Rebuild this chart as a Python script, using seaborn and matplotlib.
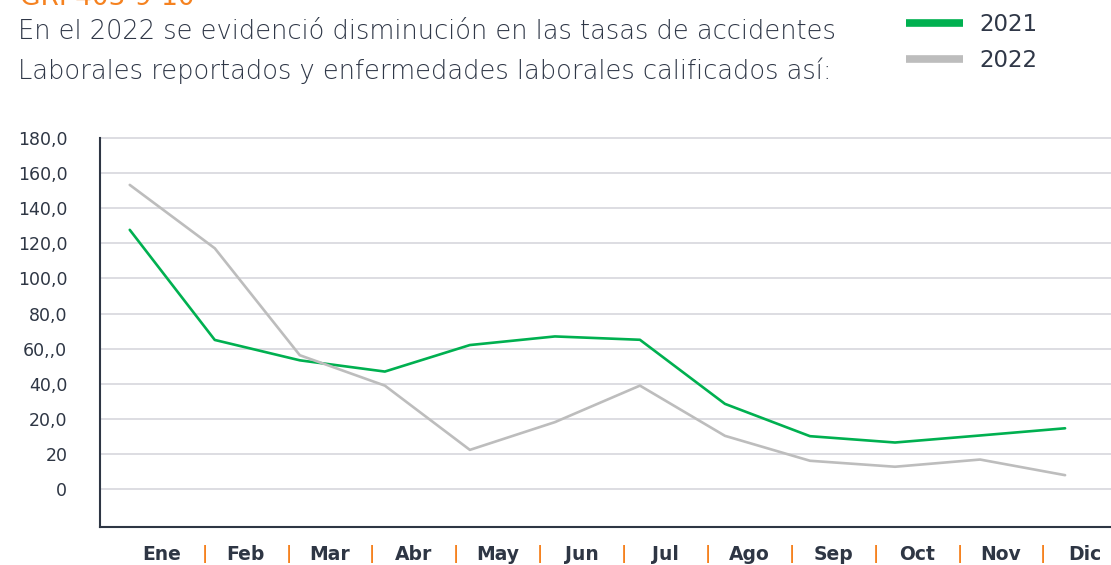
import matplotlib
matplotlib.use("Agg")
import matplotlib.pyplot as plt
import seaborn as sns
import pandas as pd
import numpy as np
from matplotlib.lines import Line2D

meses = ["Ene", "Feb", "Mar", "Abr", "May", "Jun", "Jul", "Ago", "Sep", "Oct", "Nov", "Dic"]
tasa_2021 = [147.7, 85.0, 73.4, 67.0, 82.1, 87.0, 85.1, 48.6, 30.2, 26.6, 30.6, 34.7]
tasa_2022 = [173.3, 137.2, 76.3, 59.0, 22.4, 38.2, 59.0, 30.4, 16.2, 12.8, 16.9, 8.0]
ytick_vals = [200, 180, 160, 140, 120, 100, 80, 60, 40, 20, 0]
ytick_labels = ["180,0", "160,0", "140,0", "120,0", "100,0", "80,0", "60,,0", "40,0", "20,0", "20", "0"]

df = pd.DataFrame({
    "mes": list(range(12)) * 2,
    "tasa": tasa_2021 + tasa_2022,
    "anio": ["2021"] * 12 + ["2022"] * 12,
})

sns.set_style("white")
plt.rcParams["font.family"] = ["DejaVu Sans"]

verde = "#00b050"
gris = "#bdbdbd"
oscuro = "#2e3644"
naranja = "#f58220"
texto = "#2f3747"

fig = plt.figure(figsize=(11.11, 5.65), dpi=100)
ax = fig.add_axes([0.09, 0.0673, 0.91, 0.690])

for y in ytick_vals:
    ax.axhline(y, color="#dddde2", lw=1.4, zorder=0)

sns.lineplot(
    data=df, x="mes", y="tasa", hue="anio",
    palette={"2021": verde, "2022": gris},
    linewidth=1.9, legend=False, ax=ax
)

ax.set_xlim(-0.35, 11.54)
ax.set_ylim(-21.5, 200.5)
ax.set_yticks(ytick_vals)
ax.set_yticklabels(ytick_labels, fontsize=12.5, color=oscuro)
ax.tick_params(axis="y", direction="inout", length=11, width=1.5, color=oscuro, pad=18)
ax.set_xticks([])
ax.set_xlabel("")
ax.set_ylabel("")

for s in ["top", "right"]:
    ax.spines[s].set_visible(False)
ax.spines["left"].set_bounds(-21.5, 200)
ax.spines["left"].set_color(oscuro)
ax.spines["left"].set_linewidth(1.5)
ax.spines["bottom"].set_color(oscuro)
ax.spines["bottom"].set_linewidth(1.5)

# month labels sit a bit right of the points, orange bars between them
for i, m in enumerate(meses):
    xm = i + 0.38 - 0.0136 * i
    ax.text(xm, -0.07, m, transform=ax.get_xaxis_transform(),
            ha="center", va="center", fontsize=13.5, fontweight="bold", color=oscuro)
    if i < len(meses) - 1:
        ax.text(xm + 0.5, -0.07, "|", transform=ax.get_xaxis_transform(),
                ha="center", va="center", fontsize=12, fontweight="bold", color=naranja)

# heading is cut by the top edge in the original, only its lower part shows
fig.text(0.018, 0.991, "GRI 403-9-10", fontsize=19, color=naranja,
         ha="left", va="baseline")
fig.text(0.016, 0.945, "En el 2022 se evidenció disminución en las tasas de accidentes",
         fontsize=18.5, fontweight="light", color=texto, ha="left", va="center")
fig.text(0.016, 0.874, "Laborales reportados y enfermedades laborales calificados así:",
         fontsize=18.5, fontweight="light", color=texto, ha="left", va="center")

handles = [Line2D([], [], color=verde, lw=5.5, solid_capstyle="butt"),
           Line2D([], [], color=gris, lw=5.5, solid_capstyle="butt")]
fig.legend(handles, ["2021", "2022"], loc="upper left", bbox_to_anchor=(0.797, 1.014),
           frameon=False, fontsize=16.5, handlelength=2.5, handletextpad=0.7,
           labelspacing=0.6, labelcolor=texto)

fig.savefig("out.png", dpi=100)
